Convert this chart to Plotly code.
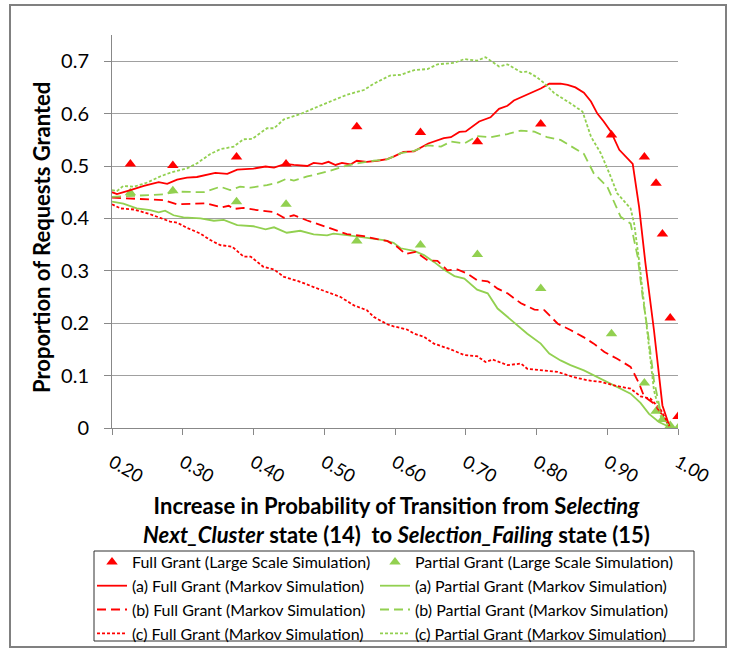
import plotly.graph_objects as go

# ---------------- data ----------------
ls_x = [0.226, 0.286, 0.376, 0.446, 0.546, 0.636, 0.7165, 0.806, 0.906, 0.9525, 0.969, 0.978, 0.989, 1.0]
full_ls = [0.504, 0.501, 0.517, 0.504, 0.575, 0.564, 0.5465, 0.580, 0.559, 0.517, 0.467, 0.370, 0.210, 0.022]
partial_ls = [0.449, 0.453, 0.432, 0.427, 0.357, 0.349, 0.331, 0.266, 0.180, 0.086, 0.032, 0.016, 0.005, 0.0]

full_a_x = [0.200, 0.207, 0.226, 0.245, 0.266, 0.278, 0.292, 0.306, 0.320, 0.334, 0.346, 0.363, 0.377, 0.400,
            0.417, 0.429, 0.445, 0.457, 0.476, 0.485, 0.497, 0.506, 0.516, 0.525, 0.537, 0.546, 0.560, 0.575,
            0.589, 0.598, 0.612, 0.627, 0.641, 0.647, 0.669, 0.679, 0.691, 0.700, 0.719, 0.735, 0.747, 0.759,
            0.768, 0.787, 0.806, 0.818, 0.834, 0.844, 0.855, 0.867, 0.877, 0.886, 0.895, 0.905, 0.917, 0.936,
            0.945, 0.954, 0.966, 0.978, 0.985, 0.988]
full_a_y = [0.450, 0.4465, 0.454, 0.462, 0.469, 0.466, 0.474, 0.478, 0.479, 0.483, 0.487, 0.485, 0.493, 0.495,
            0.499, 0.497, 0.504, 0.502, 0.500, 0.506, 0.504, 0.508, 0.502, 0.506, 0.503, 0.510, 0.508, 0.510,
            0.513, 0.518, 0.527, 0.528, 0.538, 0.543, 0.553, 0.555, 0.565, 0.566, 0.585, 0.593, 0.609, 0.615,
            0.625, 0.636, 0.648, 0.657, 0.657, 0.655, 0.650, 0.640, 0.623, 0.600, 0.585, 0.566, 0.531, 0.504,
            0.422, 0.314, 0.187, 0.043, 0.015, 0.003]

full_b_x = [0.200, 0.231, 0.273, 0.292, 0.320, 0.334, 0.355, 0.365, 0.372, 0.386, 0.405, 0.429, 0.443, 0.457,
            0.476, 0.494, 0.513, 0.532, 0.556, 0.575, 0.589, 0.603, 0.615, 0.629, 0.646, 0.660, 0.674, 0.688,
            0.702, 0.716, 0.731, 0.745, 0.759, 0.778, 0.797, 0.811, 0.830, 0.848, 0.867, 0.881, 0.896, 0.914,
            0.933, 0.938, 0.945, 0.952, 0.966, 0.980, 0.988]
full_b_y = [0.4395, 0.437, 0.435, 0.427, 0.429, 0.4287, 0.421, 0.424, 0.418, 0.420, 0.416, 0.412, 0.401, 0.406,
            0.396, 0.387, 0.379, 0.370, 0.366, 0.3605, 0.357, 0.346, 0.332, 0.336, 0.320, 0.319, 0.301, 0.3025,
            0.295, 0.282, 0.280, 0.266, 0.257, 0.238, 0.226, 0.225, 0.199, 0.187, 0.173, 0.161, 0.145, 0.132,
            0.1166, 0.104, 0.085, 0.0605, 0.0465, 0.021, 0.003]

full_c_x = [0.200, 0.212, 0.231, 0.254, 0.268, 0.282, 0.292, 0.306, 0.325, 0.339, 0.353, 0.370, 0.386, 0.396,
            0.414, 0.429, 0.443, 0.466, 0.485, 0.509, 0.523, 0.542, 0.560, 0.570, 0.589, 0.598, 0.617, 0.627,
            0.641, 0.655, 0.679, 0.698, 0.716, 0.728, 0.738, 0.759, 0.778, 0.787, 0.806, 0.830, 0.853, 0.872,
            0.891, 0.914, 0.933, 0.947, 0.961, 0.976, 0.988]
full_c_y = [0.427, 0.419, 0.417, 0.408, 0.401, 0.394, 0.392, 0.382, 0.371, 0.3586, 0.349, 0.346, 0.327, 0.327,
            0.3076, 0.3025, 0.2885, 0.279, 0.269, 0.257, 0.250, 0.234, 0.225, 0.212, 0.198, 0.194, 0.188, 0.180,
            0.174, 0.161, 0.150, 0.139, 0.137, 0.126, 0.1306, 0.120, 0.123, 0.113, 0.110, 0.107, 0.097, 0.091,
            0.088, 0.080, 0.075, 0.0605, 0.056, 0.034, 0.003]

part_a_x = [0.200, 0.216, 0.235, 0.254, 0.266, 0.275, 0.287, 0.301, 0.325, 0.344, 0.358, 0.377, 0.400, 0.417,
            0.429, 0.447, 0.466, 0.485, 0.504, 0.513, 0.532, 0.560, 0.584, 0.598, 0.608, 0.627, 0.641, 0.655,
            0.669, 0.684, 0.698, 0.716, 0.731, 0.745, 0.768, 0.787, 0.806, 0.818, 0.834, 0.848, 0.867, 0.891,
            0.914, 0.933, 0.947, 0.959, 0.973, 0.988]
part_a_y = [0.432, 0.428, 0.419, 0.416, 0.4115, 0.4146, 0.406, 0.402, 0.400, 0.3955, 0.397, 0.387, 0.385, 0.379,
            0.383, 0.3726, 0.3764, 0.3694, 0.3675, 0.371, 0.368, 0.3637, 0.3586, 0.3535, 0.343, 0.338, 0.330, 0.317,
            0.3025, 0.290, 0.285, 0.264, 0.257, 0.228, 0.2025, 0.180, 0.161, 0.142, 0.129, 0.120, 0.110, 0.094,
            0.078, 0.0656, 0.048, 0.027, 0.0115, 0.002]

part_b_x = [0.200, 0.231, 0.273, 0.292, 0.315, 0.330, 0.353, 0.367, 0.381, 0.396, 0.419, 0.433, 0.447, 0.457,
            0.476, 0.494, 0.509, 0.527, 0.546, 0.570, 0.589, 0.608, 0.627, 0.646, 0.665, 0.679, 0.698, 0.716,
            0.735, 0.759, 0.778, 0.797, 0.815, 0.834, 0.853, 0.867, 0.881, 0.900, 0.919, 0.933, 0.943, 0.950,
            0.957, 0.966, 0.976, 0.988]
part_b_y = [0.441, 0.4427, 0.446, 0.451, 0.4497, 0.450, 0.4605, 0.454, 0.4605, 0.4586, 0.4637, 0.4675, 0.476, 0.472,
            0.480, 0.486, 0.491, 0.499, 0.505, 0.510, 0.5127, 0.5245, 0.529, 0.5395, 0.537, 0.5465, 0.543, 0.557,
            0.555, 0.561, 0.5675, 0.5656, 0.555, 0.5497, 0.534, 0.523, 0.486, 0.4605, 0.403, 0.390, 0.327, 0.250,
            0.187, 0.091, 0.027, 0.003]

part_c_x = [0.200, 0.207, 0.216, 0.231, 0.249, 0.268, 0.282, 0.306, 0.320, 0.339, 0.353, 0.372, 0.386, 0.398,
            0.419, 0.429, 0.443, 0.466, 0.485, 0.509, 0.532, 0.556, 0.570, 0.593, 0.608, 0.627, 0.646, 0.660,
            0.684, 0.698, 0.716, 0.728, 0.747, 0.759, 0.778, 0.787, 0.801, 0.811, 0.825, 0.844, 0.865, 0.877,
            0.891, 0.903, 0.914, 0.933, 0.938, 0.945, 0.952, 0.959, 0.966, 0.976, 0.988]
part_c_y = [0.454, 0.452, 0.462, 0.4605, 0.468, 0.480, 0.487, 0.4955, 0.505, 0.523, 0.532, 0.537, 0.551, 0.5516,
            0.572, 0.572, 0.589, 0.599, 0.610, 0.623, 0.636, 0.645, 0.657, 0.6726, 0.674, 0.683, 0.685, 0.694,
            0.697, 0.704, 0.701, 0.7076, 0.690, 0.694, 0.679, 0.680, 0.669, 0.658, 0.639, 0.623, 0.604, 0.556,
            0.524, 0.486, 0.448, 0.419, 0.390, 0.320, 0.231, 0.155, 0.072, 0.021, 0.003]

x_ticks = [0.2, 0.3, 0.4, 0.5, 0.6, 0.7, 0.8, 0.9, 1.0]
x_tick_labels = ["0.20", "0.30", "0.40", "0.50", "0.60", "0.70", "0.80", "0.90", "1.00"]
y_ticks = [0, 0.1, 0.2, 0.3, 0.4, 0.5, 0.6, 0.7]
y_tick_labels = ["0", "0.1", "0.2", "0.3", "0.4", "0.5", "0.6", "0.7"]

# ---------------- styles ----------------
RED = "#FF0000"
GREEN = "#92D050"
FONT = "Lato, 'Open Sans', sans-serif"

fig = go.Figure()

def line(x, y, name, color, dash, leg):
    fig.add_trace(go.Scatter(x=x, y=y, mode="lines", name=name, legend=leg,
                             line=dict(color=color, width=1.8, dash=dash)))

fig.add_trace(go.Scatter(x=ls_x, y=full_ls, mode="markers", name="Full Grant (Large Scale Simulation)",
                         legend="legend", marker=dict(symbol="triangle-up", size=10, color=RED)))
fig.add_trace(go.Scatter(x=ls_x, y=partial_ls, mode="markers", name="Partial Grant (Large Scale Simulation)",
                         legend="legend2", marker=dict(symbol="triangle-up", size=10, color=GREEN)))
line(full_a_x, full_a_y, "(a) Full Grant (Markov Simulation)", RED, "solid", "legend")
line(part_a_x, part_a_y, "(a) Partial Grant (Markov Simulation)", GREEN, "solid", "legend2")
line(full_b_x, full_b_y, "(b) Full Grant (Markov Simulation)", RED, "9px,5px", "legend")
line(part_b_x, part_b_y, "(b) Partial Grant (Markov Simulation)", GREEN, "9px,5px", "legend2")
line(full_c_x, full_c_y, "(c) Full Grant (Markov Simulation)", RED, "3px,2px", "legend")
line(part_c_x, part_c_y, "(c) Partial Grant (Markov Simulation)", GREEN, "3px,2px", "legend2")

# plot area: x 112..678 px, y 35..428 px
L, R, T, B = 112, 678, 35, 428
W, H = 734, 648
pw, ph = R - L, B - T

def px(xp):
    return (xp - L) / pw

def py(yp):
    return (B - yp) / ph

leg_common = dict(orientation="v", xref="container", yref="container", xanchor="left", yanchor="top",
                  itemwidth=30, borderwidth=0, bgcolor="rgba(0,0,0,0)", traceorder="normal",
                  font=dict(family=FONT, size=16, color="black"))

fig.update_layout(
    width=W, height=H,
    margin=dict(l=L, r=W - R, t=T, b=H - B, pad=0, autoexpand=False),
    paper_bgcolor="white", plot_bgcolor="white",
    font=dict(family=FONT, color="black"),
    showlegend=True,
    legend=dict(x=92 / W, y=1 - 545 / H, **leg_common),
    legend2=dict(x=375 / W, y=1 - 545 / H, **leg_common),
    xaxis=dict(range=[0.2, 1.0], tickmode="array", tickvals=x_ticks, ticktext=x_tick_labels,
               tickangle=30, ticks="outside", ticklen=6, tickcolor="#888888", automargin=False,
               showline=True, linecolor="#888888", linewidth=1, showgrid=False, zeroline=False,
               tickfont=dict(family=FONT, size=18, color="black"), ticklabelstandoff=10),
    yaxis=dict(range=[0, 0.75], tickmode="array", tickvals=y_ticks, ticktext=y_tick_labels,
               ticks="outside", ticklen=7, tickcolor="#888888", automargin=False,
               showline=True, linecolor="#888888", linewidth=1,
               showgrid=True, gridcolor="#a0a0a0", gridwidth=1, zeroline=False,
               tickfont=dict(family=FONT, size=20, color="black"), ticklabelstandoff=11),
)

# y axis title
fig.add_annotation(xref="paper", yref="paper", x=px(41), y=py(238), xanchor="center", yanchor="middle",
                   showarrow=False, textangle=-90,
                   text="<b>Proportion of Requests Granted</b>",
                   font=dict(family=FONT, size=22, color="black"))

# x axis title
fig.add_annotation(xref="paper", yref="paper", x=px(396), y=py(490), xanchor="center", yanchor="top",
                   showarrow=False, align="center",
                   text="<b>Increase in Probability of Transition from S<i>electing</i><br>"
                        "<i>Next_Cluster</i> state (14)  to <i>Selection_Failing</i> state (15)</b>",
                   font=dict(family=FONT, size=22, color="black"))

# legend box
fig.add_shape(type="rect", xref="paper", yref="paper", x0=px(94), x1=px(694), y0=py(641), y1=py(551),
              line=dict(color="#303030", width=1), layer="below")

# outer chart frame
fig.add_shape(type="rect", xref="paper", yref="paper", x0=px(10), x1=px(726), y0=py(647), y1=py(5),
              line=dict(color="#808080", width=2), layer="below")

fig.write_html("out.html")
